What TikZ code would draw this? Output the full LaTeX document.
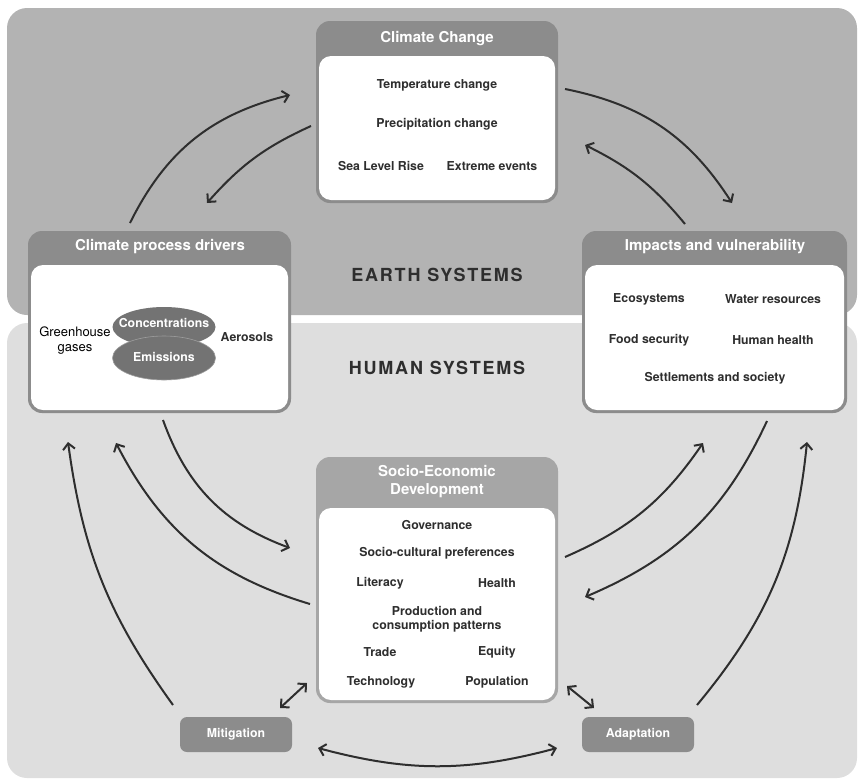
\documentclass[tikz,border=0pt]{standalone}
\usepackage{fontspec}
\setmainfont{TeX Gyre Heros}
\newfontfamily\spacedfont[LetterSpace=10]{TeX Gyre Heros}
\usetikzlibrary{arrows.meta,shapes.geometric}

\definecolor{earthgray}{HTML}{B3B3B3}
\definecolor{humangray}{HTML}{DEDEDE}
\definecolor{headgray}{HTML}{8C8C8C}
\definecolor{lightheadgray}{HTML}{A6A6A6}
\definecolor{ovalgray}{HTML}{737373}
\definecolor{inkgray}{HTML}{2E2E2E}

\newcommand*{\itemfont}{\fontsize{12.3}{14}\selectfont\bfseries}
\newcommand*{\headfont}{\fontsize{15}{18}\selectfont\bfseries}
\newcommand*{\sysfont}{\spacedfont\bfseries\fontsize{18}{20}\selectfont}

\tikzset{
    panel/.style={rounded corners=20pt},
    outerbox/.style={fill=headgray, rounded corners=14pt, inner sep=0pt},
    innerbox/.style={fill=white, rounded corners=12pt, inner sep=0pt},
    headtxt/.style={text=white, font=\headfont, align=center},
    item/.style={text=inkgray, font=\itemfont, align=center, inner sep=0pt},
    oval/.style={ellipse, fill=ovalgray, inner sep=0pt, minimum width=103pt},
    ovaltxt/.style={text=white, font=\itemfont, inner sep=0pt},
    actionbox/.style={fill=headgray, rounded corners=7pt, minimum width=112pt,
        minimum height=35pt, text=white, font=\itemfont, inner sep=0pt},
    flow/.style={draw=inkgray, line width=2pt, -{Straight Barb[length=6pt,width=12pt]}},
    twoway/.style={flow, {Straight Barb[length=6pt,width=12pt]}-{Straight Barb[length=6pt,width=12pt]}},
}

\begin{document}
\begin{tikzpicture}[x=1pt,y=-1pt]
    \useasboundingbox (0,0) rectangle (858,779);

    % the two systems
    \fill[panel, earthgray] (7,8) rectangle (857,315);
    \fill[panel, humangray] (7,323) rectangle (857,778);
    \node[text=inkgray, font=\sysfont] (earth) at (437,275) {EARTH SYSTEMS};
    \node[text=inkgray, font=\sysfont] (human) at (437,368) {HUMAN SYSTEMS};

    % Climate Change
    \node[outerbox, minimum width=242pt, minimum height=182pt] (change) at (437,112) {};
    \node[innerbox, minimum width=236pt, minimum height=144pt] (change-body) at (437,128) {};
    \node[headtxt] (change-title) at (437,39) {Climate Change};

    % Climate process drivers
    \node[outerbox, minimum width=263pt, minimum height=182pt] (drivers) at (159.5,322) {};
    \node[innerbox, minimum width=257pt, minimum height=145pt] (drivers-body) at (159.5,337.5) {};
    \node[headtxt] (drivers-title) at (160,247) {Climate process drivers};
    \node[oval, minimum height=40pt] (conc) at (164,327) {};
    \node[oval, minimum height=44pt, draw=ovalgray!70!white, line width=0.6pt] (emis) at (164,358) {};
    \node[ovaltxt] (conc-txt) at (164,323) {Concentrations};
    \node[ovaltxt] (emis-txt) at (164,357) {Emissions};
    \node[text=black, font=\fontsize{13}{15}\selectfont, align=center, inner sep=0pt] (ghg) at (75,341) {Greenhouse\\gases};
    \node[item] (aerosols) at (247,337) {Aerosols};

    % Impacts and vulnerability
    \node[outerbox, minimum width=265pt, minimum height=182pt] (impacts) at (714.5,322) {};
    \node[innerbox, minimum width=259pt, minimum height=145pt] (impacts-body) at (714.5,337.5) {};
    \node[headtxt] (impacts-title) at (715,247) {Impacts and vulnerability};

    % Socio-Economic Development
    \node[outerbox, fill=lightheadgray, minimum width=242pt, minimum height=246pt] (socio) at (437,580) {};
    \node[innerbox, minimum width=236pt, minimum height=192pt] (socio-body) at (437,604) {};
    \node[headtxt] (socio-title) at (437,482) {Socio-Economic\\Development};

    \foreach \n/\x/\y/\t in {
        temp/437/85/Temperature change,
        precip/437/124/Precipitation change,
        sealevel/381/166/Sea Level Rise,
        extreme/492/166/Extreme events,
        eco/649/299/Ecosystems,
        water/773/299/Water resources,
        food/649/340/Food security,
        health-imp/773/340/Human health,
        settle/715/378/Settlements and society,
        gov/437/525/Governance,
        culture/437/553/Socio-cultural preferences,
        literacy/380/583/Literacy,
        health/497/583/Health,
        production/437/619/Production and\\consumption patterns,
        trade/380/652/Trade,
        equity/497/652/Equity,
        tech/381/682/Technology,
        pop/497/682/Population} {
        \node[item] (\n) at (\x,\y) {\t};
    }

    \node[actionbox] (mitig) at (236,734.5) {Mitigation};
    \node[actionbox] (adapt) at (638,734.5) {Adaptation};

    % arrow ends
    \foreach \n/\x/\y in {
        drv-up/130/223, chg-left-in/290/95,
        chg-left-out/311/126, drv-in/207/203,
        chg-right-out/565/89, imp-in/732/203,
        imp-up/685/224, chg-right-in/585/145,
        drv-down/163/420, soc-left-in/290/548,
        soc-left-out/310/604, drv-low-in/116/443,
        mit-up/173/705, drv-far-in/68/442,
        mit-soc/280/708, soc-mit/307/683,
        mit-adapt/318/748, adapt-mit/557/748,
        soc-right-out/565/557, imp-low-in/703/443,
        imp-down/767/421, soc-right-in/585/597,
        adapt-up/697/705, imp-far-in/807/442,
        soc-adapt/567/686, adapt-soc/594/708} {
        \coordinate (\n) at (\x,\y);
    }

    \draw[flow] (drv-up) to[bend left=25] (chg-left-in);
    \draw[flow] (chg-left-out) to[bend right=12] (drv-in);
    \draw[flow] (chg-right-out) to[bend left=23] (imp-in);
    \draw[flow] (imp-up) to[bend right=12] (chg-right-in);
    \draw[flow] (drv-down) to[bend right=25] (soc-left-in);
    \draw[flow] (soc-left-out) to[bend left=23] (drv-low-in);
    \draw[flow] (mit-up) to[bend left=14] (drv-far-in);
    \draw[twoway] (mit-soc) -- (soc-mit);
    \draw[twoway] (mit-adapt) to[bend right=15] (adapt-mit);
    \draw[flow] (soc-right-out) to[bend right=16] (imp-low-in);
    \draw[flow] (imp-down) to[bend left=21] (soc-right-in);
    \draw[flow] (adapt-up) to[bend right=17] (imp-far-in);
    \draw[twoway] (soc-adapt) -- (adapt-soc);

\end{tikzpicture}
\end{document}
